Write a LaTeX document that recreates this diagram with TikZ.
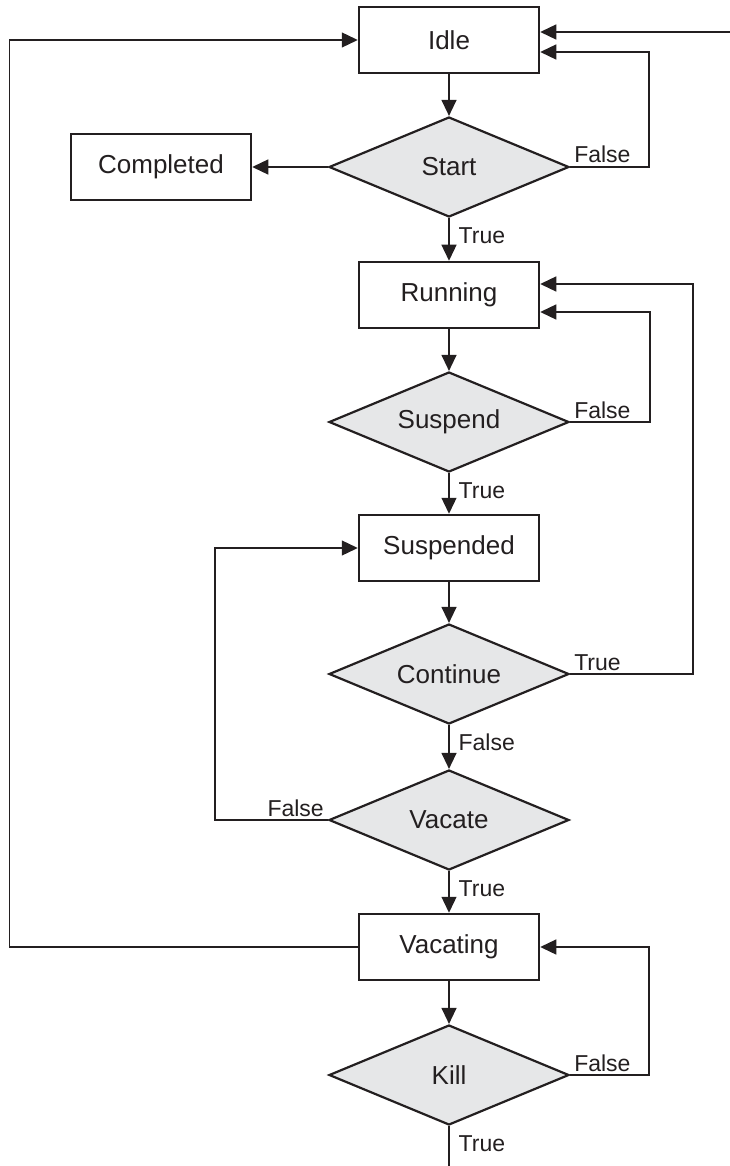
\documentclass[tikz,border=0pt]{standalone}
\usepackage{fontspec}
\setmainfont{Liberation Sans}
\usetikzlibrary{shapes.geometric,arrows.meta,calc}
\definecolor{ink}{HTML}{231F20}
\definecolor{decfill}{HTML}{E6E7E8}
\begin{document}
\begin{tikzpicture}[x=1pt,y=-1pt,
  state/.style={draw=ink, line width=2.5pt, fill=white, minimum width=180pt,
    minimum height=66pt, inner sep=0pt, text=ink, font=\fontsize{26}{30}\selectfont},
  test/.style={diamond, draw=ink, line width=2.2pt, fill=decfill, aspect=2.4,
    minimum width=240pt, minimum height=100pt, inner sep=0pt, text=ink,
    font=\fontsize{26}{30}\selectfont},
  link/.style={draw=ink, line width=1.3pt},
  arr/.style={link, -{Triangle[length=16pt,width=15pt]}},
  lbl/.style={text=ink, inner sep=1.5pt, font=\fontsize{23}{26}\selectfont},
  below lbl/.style={lbl, pos=0, anchor=north west, xshift=7.5pt, yshift=-7pt},
  right lbl/.style={lbl, pos=0, anchor=base west, xshift=2pt, yshift=4pt},
  left lbl/.style={lbl, pos=0, anchor=base east, xshift=-2pt, yshift=4pt},
]
\useasboundingbox (0,0) rectangle (730,1166);

% states and decisions
\node[state] (idle) at (449,40)   {Idle};
\node[test]  (start) at (449,167) {Start};
\node[state] (done) at (161,167)  {Completed};
\node[state] (run)  at (449,295)  {Running};
\node[test]  (susp) at (449,422)  {Suspend};
\node[state] (sdd)  at (449,548)  {Suspended};
\node[test]  (cont) at (449,674)  {Continue};
\node[test]  (vac)  at (449,820)  {Vacate};
\node[state] (vcg)  at (449,947)  {Vacating};
\node[test]  (kill) at (449,1075) {Kill};
\coordinate (feed) at (730,32);
\coordinate (exit) at (449,1166);

% main flow
\draw[arr] (feed) -- (feed -| idle.east);
\draw[arr] (idle) -- (start);
\draw[arr] (start) -- (done);
\draw[arr] (start) -- node[below lbl] {True} (run);
\draw[arr] (start.east) -- node[right lbl] {False} ++(79,0) |- ($(idle.east)+(0,12)$);
\draw[arr] (run) -- (susp);
\draw[arr] (susp.east) -- node[right lbl] {False} ++(80,0) |- ($(run.east)+(0,17)$);
\draw[arr] (susp) -- node[below lbl] {True} (sdd);
\draw[arr] (sdd) -- (cont);
\draw[arr] (cont.east) -- node[right lbl] {True} ++(123,0) |- ($(run.east)+(0,-11)$);
\draw[arr] (cont) -- node[below lbl] {False} (vac);
\draw[arr] (vac.west) -- node[left lbl] {False} ++(-113,0) |- (sdd.west);
\draw[arr] (vac) -- node[below lbl] {True} (vcg);
\draw[arr] (vcg.west) -- ++(-348,0) |- (idle.west);
\draw[arr] (vcg) -- (kill);
\draw[arr] (kill.east) -- node[right lbl] {False} ++(79,0) |- (vcg.east);
\draw[link] (kill) -- node[below lbl] {True} (exit);
\end{tikzpicture}
\end{document}
